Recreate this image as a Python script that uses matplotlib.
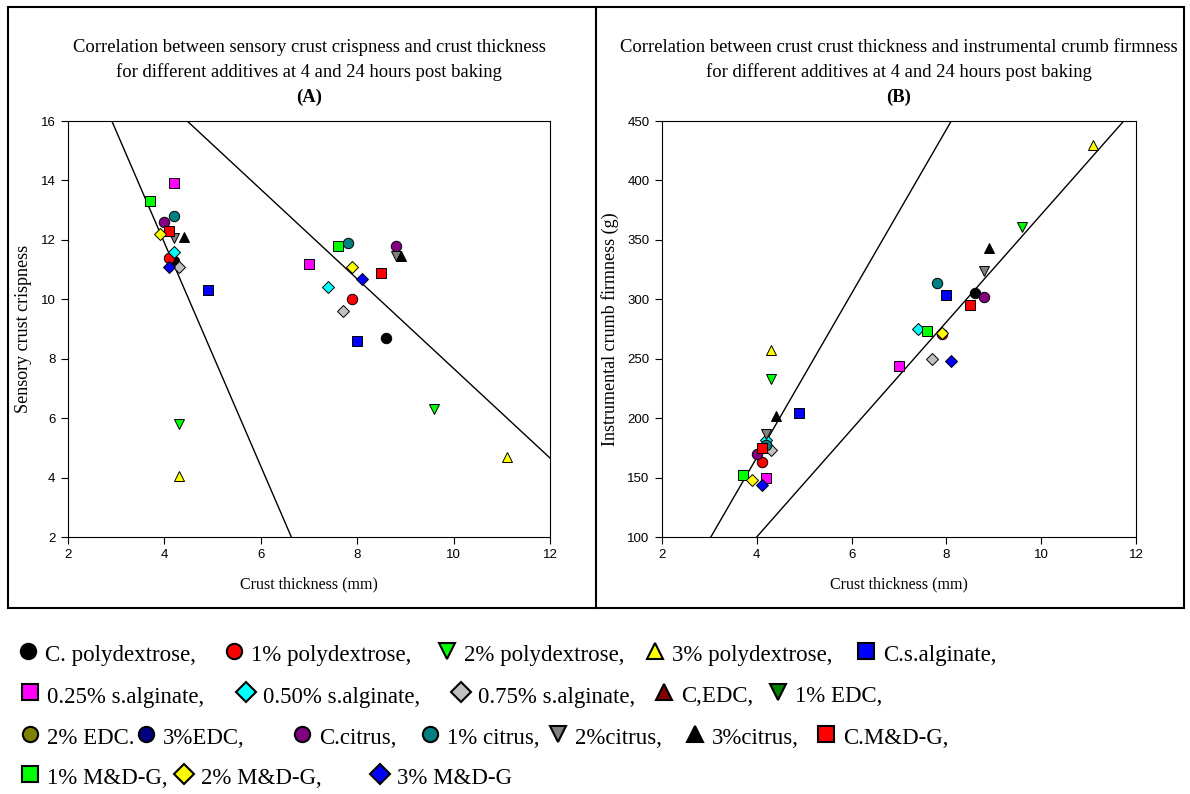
import numpy as np
import matplotlib.pyplot as plt
from matplotlib.lines import Line2D
from matplotlib.patches import Rectangle

# additives shown in both panels
additives = ["C. polydextrose", "1% polydextrose", "2% polydextrose", "3% polydextrose",
             "C.s.alginate", "0.25% s.alginate", "0.50% s.alginate", "0.75% s.alginate",
             "C.citrus", "1% citrus", "2%citrus", "3%citrus",
             "C.M&D-G", "1% M&D-G", "2% M&D-G", "3% M&D-G"]

# crust thickness (mm) at 4 h and 24 h post baking
thickness_4h = [4.2, 4.1, 4.3, 4.3, 4.9, 4.2, 4.2, 4.3, 4.0, 4.2, 4.2, 4.4, 4.1, 3.7, 3.9, 4.1]
thickness_24h = [8.6, 7.9, 9.6, 11.1, 8.0, 7.0, 7.4, 7.7, 8.8, 7.8, 8.8, 8.9, 8.5, 7.6, 7.9, 8.1]

# sensory crust crispness
crisp_4h = [11.3, 11.4, 5.8, 4.05, 10.3, 13.9, 11.6, 11.1, 12.6, 12.8, 12.05, 12.1, 12.3, 13.3, 12.2, 11.1]
crisp_24h = [8.7, 10.0, 6.3, 4.7, 8.6, 11.2, 10.4, 9.6, 11.8, 11.9, 11.45, 11.45, 10.9, 11.8, 11.1, 10.7]

# instrumental crumb firmness (g)
firm_4h = [177, 163, 233, 257, 204, 150, 182, 173, 170, 177, 187, 202, 175, 152, 148, 144]
firm_24h = [305, 271, 361, 430, 304, 244, 275, 250, 302, 314, 324, 343, 295, 273, 272, 248]

# trend lines (slope, intercept)
crisp_lines = [(-3.76, 26.94), (-1.507, 22.74)]
firm_lines = [(69.0, -109.1), (45.2, -80.7)]

# legend rows: (label, marker, colour)
legend_rows = [
    [("C. polydextrose,", "o", "black"), ("1% polydextrose,", "o", "red"),
     ("2% polydextrose,", "v", "#00ff00"), ("3% polydextrose,", "^", "yellow"),
     ("C.s.alginate,", "s", "blue")],
    [("0.25% s.alginate,", "s", "magenta"), ("0.50% s.alginate,", "D", "cyan"),
     ("0.75% s.alginate,", "D", "#c0c0c0"), ("C,EDC,", "^", "#800000"),
     ("1% EDC,", "v", "#008000")],
    [("2% EDC.", "o", "#808000"), ("3%EDC,", "o", "#000080"), ("C.citrus,", "o", "#800080"),
     ("1% citrus,", "o", "#008080"), ("2%citrus,", "v", "#808080"),
     ("3%citrus,", "^", "black"), ("C.M&D-G,", "s", "red")],
    [("1% M&D-G,", "s", "#00ff00"), ("2% M&D-G,", "D", "yellow"), ("3% M&D-G", "D", "blue")],
]
legend_x = [[28, 234, 447, 655, 866],
            [30, 246, 461, 664, 778],
            [30, 146, 302, 430, 558, 695, 826],
            [30, 184, 380]]
legend_y = [656, 697, 739, 779]

style = {}
for row in legend_rows:
    for lab, m, c in row:
        style[lab.rstrip(",.")] = (m, c)

W, H = 1190, 794
fig = plt.figure(figsize=(W / 100, H / 100), dpi=100)
serif = "Liberation Serif"
sans = "Liberation Sans"


def px(x, y):
    return x / W, 1 - y / H


def panel(left, xs4, ys4, xs24, ys24, lines, ylim, yticks, ylabel, title, letter):
    width = 0.4051 if left < 500 else 0.3983
    ax = fig.add_axes([left / W, 1 - 537 / H, width, 0.5239])
    for i, name in enumerate(additives):
        m, c = style[name]
        ms = 6.5 if m == "D" else 7.5
        for xs, ys in ((xs4, ys4), (xs24, ys24)):
            ax.plot(xs[i], ys[i], marker=m, color=c, markeredgecolor="black",
                    markeredgewidth=0.7, markersize=ms, linestyle="none", zorder=3)
    xx = np.linspace(2, 12, 200)
    for slope, icpt in lines:
        ax.plot(xx, slope * xx + icpt, color="black", lw=1, zorder=2)
    ax.set_xlim(2, 12)
    ax.set_ylim(*ylim)
    ax.set_xticks([2, 4, 6, 8, 10, 12])
    ax.set_yticks(yticks)
    ax.tick_params(direction="out", length=5, width=0.8, labelsize=9.5, pad=4)
    for t in ax.get_xticklabels() + ax.get_yticklabels():
        t.set_family(sans)
    for s in ax.spines.values():
        s.set_linewidth(0.8)
    ax.set_xlabel("Crust thickness (mm)", family=serif, fontsize=11.5, labelpad=11)
    ax.set_ylabel(ylabel, family=serif, fontsize=13, labelpad=6)
    cx = left / W + width / 2
    fig.text(cx, 1 - 47 / H, title[0], ha="center", va="center", family=serif, fontsize=13.4)
    fig.text(cx, 1 - 72 / H, title[1], ha="center", va="center", family=serif, fontsize=13.4)
    fig.text(cx, 1 - 97 / H, letter, ha="center", va="center", family=serif,
             fontsize=13.4, fontweight="bold")
    return ax


panel(68, thickness_4h, crisp_4h, thickness_24h, crisp_24h, crisp_lines,
      (2, 16), [2, 4, 6, 8, 10, 12, 14, 16], "Sensory crust crispness",
      ("Correlation between sensory crust crispness and crust thickness",
       "for different additives at 4 and 24 hours post baking"), "(A)")
panel(662, thickness_4h, firm_4h, thickness_24h, firm_24h, firm_lines,
      (100, 450), [100, 150, 200, 250, 300, 350, 400, 450],
      "Instrumental crumb firmness (g)",
      ("Correlation between crust crust thickness and instrumental crumb firmness",
       "for different additives at 4 and 24 hours post baking"), "(B)")

# frame around both panels
x0, y0 = px(8, 608)
x1, y1 = px(1184, 7)
fig.add_artist(Rectangle((x0, y0), x1 - x0, y1 - y0, transform=fig.transFigure,
                         fill=False, edgecolor="black", lw=1.5))
fig.add_artist(Line2D([596 / W, 596 / W], [y0, y1], transform=fig.transFigure,
                      color="black", lw=1.5))

# legend written out as text rows
for row, xs, y in zip(legend_rows, legend_x, legend_y):
    for (lab, m, c), x in zip(row, xs):
        mx, my = px(x, y - 5)
        fig.add_artist(Line2D([mx], [my], marker=m, color=c, markeredgecolor="black",
                              markeredgewidth=1.5, markersize=11 if m != "D" else 10,
                              linestyle="none", transform=fig.transFigure))
        tx, ty = px(x + 17, y)
        fig.text(tx, ty, lab, ha="left", va="center", family=serif, fontsize=16.5)

fig.savefig("out.png", dpi=100)
